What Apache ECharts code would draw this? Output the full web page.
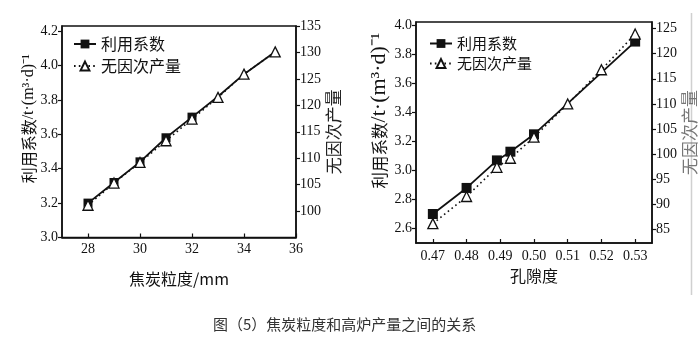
<!DOCTYPE html>
<html><head><meta charset="utf-8">
<script src="https://cdn.jsdelivr.net/npm/echarts@6/dist/echarts.min.js"></script>
<style>html,body{margin:0;padding:0;background:#fff}#c{width:698px;height:348px}</style>
</head><body><div id="c"></div>
<script>
// ---- Left chart: coke size ----
const cokeSize = [28, 29, 30, 31, 32, 33, 34, 35.2];
const utilByCoke = [3.20, 3.32, 3.44, 3.58, 3.70, 3.82, 3.95, 4.08];
const utilByCokeMarkers = 5; // squares drawn on first five points
const prodByCoke = [101.1, 105.3, 109.2, 113.3, 117.4, 121.5, 125.9, 130.1];
const cokeTicks = [28, 30, 32, 34, 36];
const utilTicksL = [3.0, 3.2, 3.4, 3.6, 3.8, 4.0, 4.2];
const prodTicksL = [100, 105, 110, 115, 120, 125, 130, 135];
// ---- Right chart: porosity ----
const porosityU = [0.47, 0.48, 0.489, 0.493, 0.50, 0.53];
const utilByPor = [2.70, 2.88, 3.07, 3.13, 3.25, 3.89];
const porosityP = [0.47, 0.48, 0.489, 0.493, 0.50, 0.51, 0.52, 0.53];
const prodByPor = [86.2, 91.6, 97.4, 99.2, 103.4, 110.0, 116.8, 123.9];
const porTicks = [0.47, 0.48, 0.49, 0.50, 0.51, 0.52, 0.53];
const utilTicksR = [2.6, 2.8, 3.0, 3.2, 3.4, 3.6, 3.8, 4.0];
const prodTicksR = [85, 90, 95, 100, 105, 110, 115, 120, 125];

const nameU = '利用系数';
const nameP = '无因次产量';
const caption = '图（5）焦炭粒度和高炉产量之间的关系';

const serif = 'Liberation Serif, Noto Sans CJK SC, serif';
const cjk = 'Noto Sans CJK SC, sans-serif';
const ink = '#111';

function yAxisBase(min, max, ticks, dec, pos, gridIndex) {
  return {
    type: 'value', gridIndex, position: pos, min, max,
    splitLine: {show: false},
    axisLine: {show: true, lineStyle: {color: ink, width: 1.5}},
    axisTick: {show: true, inside: false, length: 4, customValues: ticks, lineStyle: {color: ink, width: 1.2}},
    axisLabel: {customValues: ticks, margin: 4, color: ink, fontFamily: serif, fontSize: 14,
      formatter: v => dec ? v.toFixed(dec) : String(Math.round(v))}
  };
}
function xAxisBase(min, max, ticks, dec, gridIndex, margin) {
  return {
    type: 'value', gridIndex, min, max,
    splitLine: {show: false},
    axisLine: {show: true, lineStyle: {color: ink, width: 1.5}},
    axisTick: {show: true, inside: true, length: 4, customValues: ticks, lineStyle: {color: ink, width: 1.2}},
    axisLabel: {customValues: ticks, margin, color: ink, fontFamily: serif, fontSize: 14,
      formatter: v => dec ? v.toFixed(dec) : String(Math.round(v))}
  };
}

const xy = (xs, ys) => xs.map((x, i) => [x, ys[i]]);

const utilLeftData = cokeSize.map((x, i) => i < utilByCokeMarkers ? [x, utilByCoke[i]] : {value: [x, utilByCoke[i]], symbol: 'none'});

const yNameRich = (s1, s2) => ({
  a: {fontFamily: cjk, fontSize: s1, color: ink},
  b: {fontFamily: serif, fontSize: s2, color: ink}
});

const x0 = xAxisBase(27, 36, cokeTicks, 0, 0, 5);
x0.name = '焦炭粒度/mm'; x0.nameLocation = 'middle'; x0.nameGap = 33;
x0.nameTextStyle = {fontFamily: 'Noto Sans CJK SC, Liberation Serif', fontSize: 16, color: ink};
const x1 = xAxisBase(0.465, 0.535, porTicks, 2, 1, 6);
x1.name = '孔隙度'; x1.nameLocation = 'middle'; x1.nameGap = 25;
x1.nameTextStyle = {fontFamily: cjk, fontSize: 16, color: ink};

const yL0 = yAxisBase(3.0, 4.23, utilTicksL, 1, 'left', 0);
yL0.name = '{a|利用系数}{b|/t·(m³·d)⁻¹}'; yL0.nameLocation = 'middle'; yL0.nameGap = 23; yL0.nameRotate = 90;
yL0.nameTextStyle = {rich: yNameRich(16, 16), padding: [0, 0, 0, 26]};
const yR0 = yAxisBase(95, 135, prodTicksL, 0, 'right', 0);
yR0.name = '无因次产量'; yR0.nameLocation = 'middle'; yR0.nameGap = 23; yR0.nameRotate = 90;
yR0.nameTextStyle = {fontFamily: cjk, fontSize: 17, color: '#222'};
const yL1 = yAxisBase(2.5, 4.025, utilTicksR, 1, 'left', 1);
yL1.name = '{a|利用系数}{b|/t·(m³·d)⁻¹}'; yL1.nameLocation = 'middle'; yL1.nameGap = 25; yL1.nameRotate = 90;
yL1.nameTextStyle = {rich: yNameRich(16.5, 22), padding: [0, 0, 0, 44]};
const yR1 = yAxisBase(82.35, 126.3, prodTicksR, 0, 'right', 1);
yR1.name = '无因次产量'; yR1.nameLocation = 'middle'; yR1.nameGap = 27; yR1.nameRotate = 90;
yR1.nameTextStyle = {fontFamily: cjk, fontSize: 17, color: '#777'};

const solid = {color: ink, width: 1.8, type: 'solid'};
const dotted = {color: ink, width: 1.6, type: [1.6, 3.2]};
const triStyle = {color: '#fff', borderColor: ink, borderWidth: 1.3};
const sqStyle = {color: ink};

const option = {
  backgroundColor: '#fff',
  animation: false,
  grid: [
    {left: 62, top: 26, width: 234, height: 211.5, show: true, borderColor: ink, borderWidth: 1.5, outerBoundsMode: 'none', containLabel: false},
    {left: 416, top: 22, width: 236, height: 221, show: true, borderColor: ink, borderWidth: 1.5, outerBoundsMode: 'none', containLabel: false}
  ],
  xAxis: [x0, x1],
  yAxis: [yL0, yR0, yL1, yR1],
  legend: [
    {orient: 'vertical', left: 73, top: 36, padding: 0, itemWidth: 22, itemHeight: 11, itemGap: 6,
      textStyle: {fontFamily: cjk, fontSize: 16, color: ink}, data: [nameU, nameP]},
    {orient: 'vertical', left: 429, top: 36, padding: 0, itemWidth: 22, itemHeight: 11, itemGap: 5,
      textStyle: {fontFamily: cjk, fontSize: 15, color: ink}, data: [nameU, nameP]}
  ],
  graphic: [
    {type: 'text', left: 213, top: 317, style: {text: caption, font: '15px Noto Sans CJK SC', fill: '#333'}},
    {type: 'line', shape: {x1: 691.5, y1: 13, x2: 691.5, y2: 295}, style: {stroke: '#d0d0d0', lineWidth: 1.5}}
  ],
  series: [
    {name: nameU, type: 'line', xAxisIndex: 0, yAxisIndex: 0, data: utilLeftData,
      symbol: 'rect', symbolSize: 9, lineStyle: solid, itemStyle: sqStyle, z: 2},
    {name: nameP, type: 'line', xAxisIndex: 0, yAxisIndex: 1, data: xy(cokeSize, prodByCoke),
      symbol: 'triangle', symbolSize: 10, lineStyle: dotted, itemStyle: triStyle, z: 3},
    {name: nameU, type: 'line', xAxisIndex: 1, yAxisIndex: 2, data: xy(porosityU, utilByPor),
      symbol: 'rect', symbolSize: 10, lineStyle: solid, itemStyle: sqStyle, z: 2},
    {name: nameP, type: 'line', xAxisIndex: 1, yAxisIndex: 3, data: xy(porosityP, prodByPor),
      symbol: 'triangle', symbolSize: 10, lineStyle: dotted, itemStyle: triStyle, z: 3}
  ]
};
const chart = echarts.init(document.getElementById('c'), null, {renderer: 'canvas'});
chart.setOption(option);
</script></body></html>
